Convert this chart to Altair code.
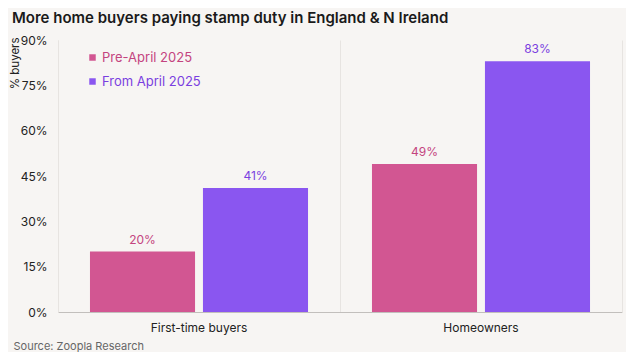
import altair as alt
import pandas as pd

categories = ["First-time buyers", "First-time buyers", "Homeowners", "Homeowners"]
series = ["Pre-April 2025", "From April 2025", "Pre-April 2025", "From April 2025"]
values = [20, 41, 49, 83]
series_order = ["Pre-April 2025", "From April 2025"]
bar_colors = ["#D25692", "#8A56F0"]
label_colors = ["#C4447F", "#7A3FE0"]
y_ticks = [0, 15, 30, 45, 60, 75, 90]

df = pd.DataFrame({"category": categories, "series": series, "value": values})

FONT = "Inter"
BG = "#F7F5F3"

x_enc = alt.X(
    "category:N",
    title="Source: Zoopla Research",
    scale=alt.Scale(paddingInner=0, paddingOuter=0),
    axis=alt.Axis(
        labelAngle=0, labelFontSize=12, labelColor="#222", labelPadding=10,
        ticks=False, domainColor="#c2bfbc", grid=True, gridColor="#e7e4e1",
        bandPosition=0,
        titleAnchor="start", titleAlign="left", titleBaseline="middle",
        titleX=-45, titleY=34,
        titleFontSize=11, titleFontWeight="normal", titleColor="#666",
    ),
)
xoff_enc = alt.XOffset(
    "series:N", sort=series_order,
    scale=alt.Scale(paddingInner=0.07, paddingOuter=0.283),
)

legend_label_expr = (
    f"datum.value == '{series_order[0]}' ? '{label_colors[0]}' : '{label_colors[1]}'"
)

bars = alt.Chart(df).mark_bar().encode(
    x=x_enc,
    xOffset=xoff_enc,
    y=alt.Y(
        "value:Q",
        title="% buyers",
        scale=alt.Scale(domain=[0, 90], nice=False),
        axis=alt.Axis(
            values=y_ticks, labelExpr="datum.value + '%'", ticks=False,
            labelPadding=11, labelFontSize=12, labelColor="#222",
            domainColor="#e7e4e1", grid=False,
            titleAngle=-90, titleAlign="right", titleBaseline="bottom",
            titleX=-38, titleY=-3, titleFontSize=11.5, titleFontWeight="normal",
            titleColor="#222",
        ),
    ),
    color=alt.Color(
        "series:N", sort=series_order,
        scale=alt.Scale(domain=series_order, range=bar_colors),
        legend=alt.Legend(
            title=None, orient="none", legendX=28, legendY=11,
            symbolType="square", symbolSize=42, labelFontSize=13,
            rowPadding=10, labelOffset=3,
            labelColor={"expr": legend_label_expr},
        ),
    ),
)

labels = alt.Chart(df).mark_text(baseline="bottom", dy=-5, fontSize=12, font=FONT).transform_calculate(
    lbl="datum.value + '%'"
).encode(
    x=alt.X("category:N"),
    xOffset=xoff_enc,
    y=alt.Y(
        "value:Q",
        scale=alt.Scale(domain=[0, 90], nice=False),
        axis=alt.Axis(labels=False, ticks=False, title=None, grid=False,
                      domainColor="#e7e4e1"),
    ),
    text="lbl:N",
    color=alt.Color("series:N", sort=series_order,
                    scale=alt.Scale(domain=series_order, range=label_colors),
                    legend=None),
)

chart = (
    alt.layer(bars, labels)
    .resolve_scale(color="independent")
    .resolve_axis(y="independent")
    .properties(
        width=564, height=272,
        autosize=alt.AutoSizeParams(type="none"),
        padding={"left": 50, "top": 32, "right": 4, "bottom": 40},
        background=BG,
        title=alt.Title(
            "More home buyers paying stamp duty in England & N Ireland",
            anchor="start", frame="group", fontSize=15, fontWeight=600, font=FONT,
            color="#1a1a1a", offset=8, dx=-46,
        ),
    )
    .configure(font=FONT)
    .configure_view(stroke=None)
    .configure_legend(labelFont=FONT)
)

chart.save("out.html", embed_options={"renderer": "svg", "actions": False})
